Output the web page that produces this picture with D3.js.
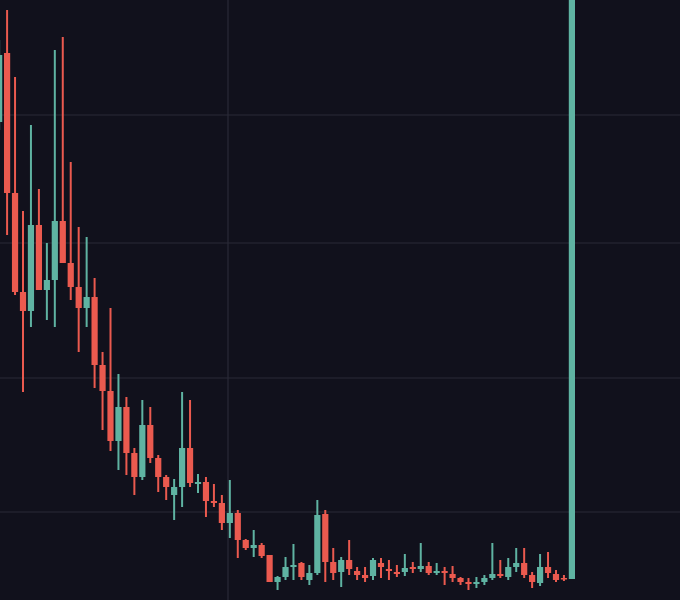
<!DOCTYPE html>
<html><head><meta charset="utf-8">
<script src="https://cdn.jsdelivr.net/npm/d3@7"></script>
<style>html,body{margin:0;padding:0;background:#11111c;overflow:hidden}</style>
</head><body><svg id="c" width="680" height="600"></svg>
<script>
// values in chart units (600 - screen y as read)
const bodyTop = [55,53,193,292,225,225,280,221,221,263,287,297,297,365,391,407,407,453,425,425,458,477,487,448,448,482,482,501,503,513,513,540,545,545,555,577,567,565,563,573,515,514,562,560,560,571,575,560,563,569,572,568,567,566,566,571,571,574,578,582,582,578,574,574,567,563,563,575,567,567,574,578,-20];
const bodyBot = [122,193,292,311,311,290,290,280,263,287,308,308,365,391,441,441,453,477,477,458,477,487,495,487,483,484,501,503,523,523,540,548,548,556,582,582,577,567,577,580,573,562,573,572,569,575,578,576,567,571,574,572,569,569,573,573,573,578,582,584,584,582,578,576,577,567,575,582,583,573,580,579,579];
const wickTop = [40,10,77,211,125,189,243,50,37,162,227,237,278,352,308,374,397,448,400,407,455,475,479,392,400,474,477,484,495,480,510,539,530,543,555,576,557,544,562,565,500,510,548,557,540,567,567,558,558,560,565,554,562,543,562,563,567,566,577,578,577,575,543,560,558,548,548,572,554,552,570,575,-20];
const wickBot = [130,235,295,392,327,290,320,327,263,300,352,327,388,430,451,470,475,495,480,463,492,500,520,507,487,493,517,507,530,538,558,550,557,558,582,590,580,580,580,585,575,582,580,587,575,580,582,580,578,580,577,576,573,572,575,575,585,582,585,590,588,585,580,578,580,572,578,588,586,578,582,581,579];
const up = "GRRRGRGGRRRGRRRGRRGRRRGGRGRRRGRRGRRGGGRGGRRGRRRGRRRGRGRGRRRRGGGRGGRRGRRRG".split("");
const days = bodyTop.map((_, i) => "D" + (i + 1));
const toV = y => 600 - y;

const svg = d3.select("#c");
const W = 680, H = 600;
const x = d3.scaleBand().domain(days).range([-3.97, 575]).paddingInner(0.22).paddingOuter(0);
const y = d3.scaleLinear().domain([0, 600]).range([600, 0]);

svg.append("rect").attr("width", W).attr("height", H).attr("fill", "#11111c");
const grid = svg.append("g").attr("stroke", "#2b2b37").attr("stroke-width", 1.2);
[485, 357, 222, 88].forEach(v => grid.append("line").attr("x1", 0).attr("x2", W).attr("y1", y(v)).attr("y2", y(v)));
grid.append("line").attr("x1", 228).attr("x2", 228).attr("y1", 0).attr("y2", H);

const col = d => d === "G" ? "#5fb3a2" : "#eb5a4f";
const g = svg.append("g");
days.forEach((d, i) => {
  const cx = x(d) + x.bandwidth() / 2;
  g.append("line").attr("x1", cx).attr("x2", cx)
    .attr("y1", y(toV(wickTop[i]))).attr("y2", y(toV(wickBot[i])))
    .attr("stroke", col(up[i])).attr("stroke-width", 2);
  const t = y(toV(bodyTop[i])), b = y(toV(bodyBot[i]));
  g.append("rect").attr("x", x(d)).attr("width", x.bandwidth())
    .attr("y", t).attr("height", Math.max(1.5, b - t)).attr("fill", col(up[i]));
});
</script></body></html>
